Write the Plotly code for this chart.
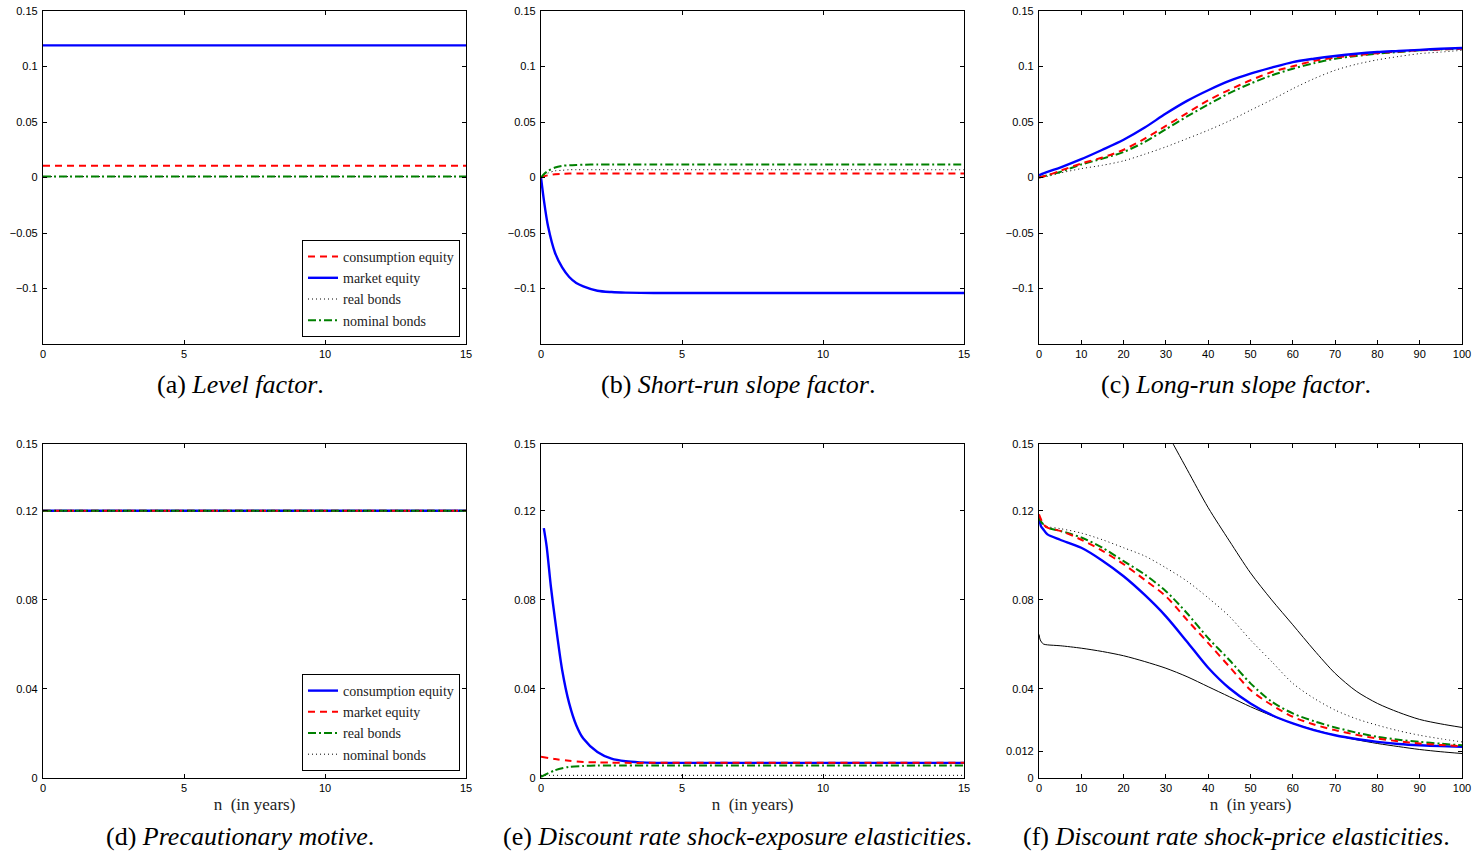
import plotly.graph_objects as go

W, H = 1473, 854

# ---------------- data ----------------
# (a) Level factor
xa = [0, 15]
a_cons = [0.0105, 0.0105]
a_mkt = [0.119, 0.119]
a_real = [0.0008, 0.0008]
a_nom = [0.0008, 0.0008]

# (b) Short-run slope factor
xb = [0, 0.1, 0.25, 0.5, 0.75, 1, 1.25, 1.5, 2, 2.5, 3, 4, 5, 7.5, 10, 12.5, 15]
b_mkt = [0, -0.020, -0.044, -0.068, -0.081, -0.0896, -0.095, -0.098, -0.102, -0.1032, -0.1037,
         -0.104, -0.104, -0.104, -0.104, -0.104, -0.104]
b_cons = [0, 0.001, 0.002, 0.003, 0.0033, 0.0035, 0.0035, 0.0035, 0.0035, 0.0035, 0.0035,
          0.0035, 0.0035, 0.0035, 0.0035, 0.0035, 0.0035]
b_real = [0, 0.002, 0.004, 0.006, 0.0065, 0.007, 0.007, 0.007, 0.007, 0.007, 0.007,
          0.007, 0.007, 0.007, 0.007, 0.007, 0.007]
b_nom = [0, 0.003, 0.006, 0.009, 0.0105, 0.011, 0.0113, 0.0115, 0.0117, 0.0117, 0.0117,
         0.0117, 0.0117, 0.0117, 0.0117, 0.0117, 0.0117]

# (c) Long-run slope factor
xc = [0, 2, 5, 10, 15, 20, 25, 30, 35, 40, 45, 50, 55, 60, 65, 70, 75, 80, 85, 90, 95, 100]
c_mkt = [0.002, 0.005, 0.009, 0.0165, 0.025, 0.034, 0.045, 0.0576, 0.069, 0.0786, 0.087, 0.0936,
         0.099, 0.104, 0.107, 0.1095, 0.1115, 0.113, 0.114, 0.115, 0.116, 0.1167]
c_cons = [0, 0.002, 0.006, 0.0126, 0.018, 0.025, 0.035, 0.0465, 0.058, 0.0696, 0.079, 0.0876,
          0.095, 0.1002, 0.105, 0.108, 0.110, 0.112, 0.1135, 0.1146, 0.1154, 0.116]
c_nom = [0, 0.002, 0.005, 0.0117, 0.017, 0.023, 0.032, 0.0435, 0.055, 0.0657, 0.076, 0.0846,
         0.092, 0.098, 0.103, 0.107, 0.1095, 0.1116, 0.113, 0.1146, 0.1154, 0.116]
c_real = [0, 0.001, 0.004, 0.008, 0.011, 0.015, 0.021, 0.0276, 0.035, 0.0426, 0.051, 0.0606,
          0.070, 0.080, 0.089, 0.0966, 0.102, 0.106, 0.109, 0.1116, 0.113, 0.1146]

# (d) Precautionary motive
xd = [0, 15]
d_cons = [0.12, 0.12]
d_mkt = [0.12, 0.12]
d_real = [0.12, 0.12]
d_nom = [0.12, 0.12]

# (e) Discount rate shock-exposure elasticities
xe_blue = [0.1, 0.2, 0.35, 0.5, 0.75, 1, 1.25, 1.5, 2, 2.5, 3, 3.5, 4, 5, 10, 15]
e_cons = [0.1122, 0.104, 0.086, 0.071, 0.0485, 0.0335, 0.0237, 0.0177, 0.0117, 0.0087, 0.0075,
          0.007, 0.0068, 0.0068, 0.0068, 0.0068]
xe = [0, 0.5, 1, 1.5, 2, 2.5, 3, 4, 5, 10, 15]
e_mkt = [0.0095, 0.0085, 0.0077, 0.0072, 0.0070, 0.0069, 0.0068, 0.0068, 0.0068, 0.0068, 0.0068]
e_real = [0.0005, 0.0035, 0.005, 0.0054, 0.0056, 0.0056, 0.0056, 0.0056, 0.0056, 0.0056, 0.0056]
e_nom = [0.0012, 0.0012, 0.0012, 0.0012, 0.0012, 0.0012, 0.0012, 0.0012, 0.0012, 0.0012, 0.0012]

# (f) Discount rate shock-price elasticities
xf = [0, 0.5, 1, 2, 5, 10, 15, 20, 25, 30, 35, 40, 45, 50, 55, 60, 65, 70, 75, 80, 85, 90, 95, 100]
f_cons = [0.117, 0.113, 0.1117, 0.1094, 0.107, 0.1034, 0.0976, 0.0906, 0.0822, 0.0726, 0.0612, 0.0495,
          0.0403, 0.0335, 0.0283, 0.0245, 0.0215, 0.0192, 0.0175, 0.0162, 0.0153, 0.0147, 0.0143, 0.014]
f_mkt = [0.1184, 0.116, 0.114, 0.1124, 0.111, 0.107, 0.102, 0.096, 0.089, 0.0816, 0.071, 0.0606,
         0.050, 0.0395, 0.0328, 0.0275, 0.024, 0.0215, 0.0194, 0.0177, 0.0165, 0.0155, 0.0148, 0.0143]
f_real = [0.117, 0.115, 0.114, 0.1124, 0.111, 0.108, 0.1034, 0.0974, 0.0914, 0.0839, 0.074, 0.0628,
          0.053, 0.0425, 0.0343, 0.029, 0.0255, 0.0227, 0.0204, 0.0185, 0.0172, 0.0162, 0.0154, 0.0147]
f_nom = [0.117, 0.115, 0.114, 0.1129, 0.112, 0.110, 0.107, 0.1034, 0.0997, 0.0944, 0.0884, 0.0809,
         0.0726, 0.062, 0.0523, 0.0425, 0.0358, 0.0305, 0.0266, 0.0237, 0.0212, 0.0192, 0.0176, 0.0162]
xf_up = [20, 25, 30, 35, 40, 45, 50, 55, 60, 65, 70, 75, 80, 85, 90, 95, 100]
f_upper = [0.19, 0.174, 0.156, 0.1386, 0.1214, 0.1065, 0.0921, 0.080, 0.0688, 0.0575, 0.047,
           0.039, 0.0335, 0.0295, 0.0263, 0.0243, 0.0227]
xf_lo = [0, 0.3, 1, 2, 5, 10, 15, 20, 25, 30, 35, 40, 45, 50, 55, 60, 65, 70, 75, 80, 85, 90, 95, 100]
f_lower = [0.0645, 0.062, 0.0602, 0.0598, 0.0594, 0.0583, 0.0568, 0.0549, 0.0523, 0.0493, 0.0455,
           0.041, 0.0365, 0.032, 0.028, 0.0245, 0.0217, 0.0192, 0.0172, 0.0155, 0.0141, 0.0128,
           0.0118, 0.011]

captions = [
    ("(a) ", "Level factor"),
    ("(b) ", "Short-run slope factor"),
    ("(c) ", "Long-run slope factor"),
    ("(d) ", "Precautionary motive"),
    ("(e) ", "Discount rate shock-exposure elasticities"),
    ("(f) ", "Discount rate shock-price elasticities"),
]

# ---------------- styles ----------------
RED = dict(color="#ff0000", width=2, dash="7px,5px")
BLUE = dict(color="#0000ff", width=2.4)
GREEN = dict(color="#008000", width=2, dash="8px,3px,2px,3px")
DOT = dict(color="#000000", width=1, dash="1px,3px")
THIN = dict(color="#000000", width=1)

fig = go.Figure()


def add(x, y, axis, line, name=None, legend=None, smooth=False):
    ln = dict(line)
    if smooth:
        ln["shape"] = "spline"
        ln["smoothing"] = 0.8
    kw = dict(x=x, y=y, mode="lines", line=ln, xaxis="x" + axis, yaxis="y" + axis,
              hoverinfo="skip")
    if name is None:
        kw["showlegend"] = False
    else:
        kw["name"] = name
        kw["showlegend"] = True
        kw["legend"] = legend
    fig.add_trace(go.Scatter(**kw))


# (a)
add(xa, a_cons, "", RED, "consumption equity", "legend")
add(xa, a_mkt, "", BLUE, "market equity", "legend")
add(xa, a_real, "", DOT, "real bonds", "legend")
add(xa, a_nom, "", GREEN, "nominal bonds", "legend")
# (b)
add(xb, b_mkt, "2", BLUE, smooth=True)
add(xb, b_real, "2", DOT, smooth=True)
add(xb, b_cons, "2", RED, smooth=True)
add(xb, b_nom, "2", GREEN, smooth=True)
# (c)
add(xc, c_real, "3", DOT, smooth=True)
add(xc, c_nom, "3", GREEN, smooth=True)
add(xc, c_cons, "3", RED, smooth=True)
add(xc, c_mkt, "3", BLUE, smooth=True)
# (d)
add(xd, d_cons, "4", BLUE, "consumption equity", "legend2")
add(xd, d_mkt, "4", RED, "market equity", "legend2")
add(xd, d_real, "4", GREEN, "real bonds", "legend2")
add(xd, d_nom, "4", DOT, "nominal bonds", "legend2")
# (e)
add(xe, e_nom, "5", DOT)
add(xe, e_real, "5", GREEN, smooth=True)
add(xe_blue, e_cons, "5", BLUE, smooth=True)
add(xe, e_mkt, "5", RED, smooth=True)
# (f)
add(xf_up, f_upper, "6", THIN, smooth=True)
add(xf_lo, f_lower, "6", THIN, smooth=True)
add(xf, f_nom, "6", DOT, smooth=True)
add(xf, f_cons, "6", BLUE, smooth=True)
add(xf, f_real, "6", GREEN, smooth=True)
add(xf, f_mkt, "6", RED, smooth=True)

# ---------------- layout ----------------
colx = [(43, 466), (541, 964), (1039, 1462)]
rowy = [(11, 344), (444, 778)]

TICKFONT = dict(family="Liberation Sans, Arial, sans-serif", size=11, color="#000")
SERIF = "Liberation Serif, Times New Roman, serif"

layout = dict(
    width=W, height=H, margin=dict(l=0, r=0, t=0, b=0, pad=0, autoexpand=False),
    autosize=False,
    paper_bgcolor="white", plot_bgcolor="white", showlegend=True,
)

ytop_ticks = [-0.1, -0.05, 0, 0.05, 0.1, 0.15]
ytop_text = ["\u22120.1", "\u22120.05", "0", "0.05", "0.1", "0.15"]
ybot_ticks = [0, 0.04, 0.08, 0.12, 0.15]
ybot_ticks_f = [0, 0.012, 0.04, 0.08, 0.12, 0.15]

for i in range(6):
    r, c = divmod(i, 3)
    suffix = "" if i == 0 else str(i + 1)
    x0, x1 = colx[c]
    yt, yb = rowy[r]
    xr = [0, 100] if c == 2 else [0, 15]
    xt = list(range(0, 101, 10)) if c == 2 else [0, 5, 10, 15]
    xax = dict(
        domain=[x0 / W, x1 / W], range=xr, tickvals=xt, anchor="y" + suffix,
        showline=True, linecolor="black", linewidth=1.3, mirror="ticks",
        ticks="inside", ticklen=4, tickcolor="black", showgrid=False, zeroline=False,
        tickfont=TICKFONT, fixedrange=True, automargin=False,
    )
    if r == 1:
        xax["title"] = dict(text="n  (in years)", font=dict(family=SERIF, size=17, color="#222"),
                            standoff=4)
    if r == 0:
        yr = [-0.15, 0.15]
        ytv, ytt = ytop_ticks, ytop_text
    else:
        yr = [0, 0.15]
        ytv = ybot_ticks_f if c == 2 else ybot_ticks
        ytt = [("%g" % v) for v in ytv]
    yax = dict(
        domain=[1 - yb / H, 1 - yt / H], range=yr, tickvals=ytv, ticktext=ytt,
        anchor="x" + suffix,
        showline=True, linecolor="black", linewidth=1.3, mirror="ticks",
        ticks="inside", ticklen=4, tickcolor="black", showgrid=False, zeroline=False,
        tickfont=TICKFONT, fixedrange=True, ticklabelstandoff=2, automargin=False,
    )
    layout["xaxis" + suffix] = xax
    layout["yaxis" + suffix] = yax

LEGFONT = dict(family=SERIF, size=14, color="#222")
layout["legend"] = dict(x=460 / W, y=1 - 337 / H, xanchor="right", yanchor="bottom",
                        bgcolor="white", bordercolor="black", borderwidth=1,
                        font=LEGFONT, tracegroupgap=0, itemwidth=30)
layout["legend2"] = dict(x=460 / W, y=1 - 771 / H, xanchor="right", yanchor="bottom",
                         bgcolor="white", bordercolor="black", borderwidth=1,
                         font=LEGFONT, tracegroupgap=0, itemwidth=30)

centers = [240, 738, 1236]
cap_y = [385, 836]
annotations = []
for i, (pre, name) in enumerate(captions):
    r, c = divmod(i, 3)
    annotations.append(dict(
        x=centers[c] / W, y=1 - cap_y[r] / H, xref="paper", yref="paper",
        xanchor="center", yanchor="middle", showarrow=False,
        text=pre + "<i>" + name + "</i>.",
        font=dict(family=SERIF, size=26, color="black"),
    ))
layout["annotations"] = annotations

fig.update_layout(**layout)
fig.write_html(
    "out.html",
    post_script="document.body.style.margin='0';document.body.style.overflow='hidden';",
)
